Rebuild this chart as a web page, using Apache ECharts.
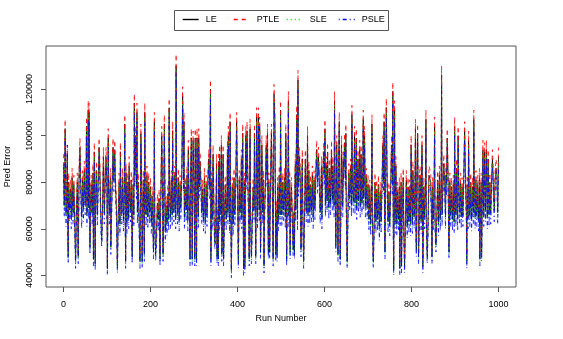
<!DOCTYPE html>
<html>
<head>
<meta charset="utf-8">
<script src="https://cdn.jsdelivr.net/npm/echarts@6/dist/echarts.min.js"></script>
<style>
  html, body { margin: 0; padding: 0; background: #fff; }
  #chart { width: 563px; height: 339px; }
</style>
</head>
<body>
<div id="chart"></div>
<script>
// all values, in thousands
// band: the dense core, one value every 2 runs (run 0..1000)
var RUN_STEP = 2;

var leBand = [
  88,70,81,66,78,64,80,68,77,65,82,67,79,63,84,69,80,66,83,70,78,65,81,68,85,71,80,66,83,69,86,70,79,67,84,68,81,72,85,66,80,69,83,65,78,70,84,67,81,66,
  80,65,78,67,82,63,79,66,81,64,77,68,83,65,80,62,78,67,82,64,79,66,84,63,80,65,77,68,81,62,79,66,83,64,78,67,80,63,82,65,79,68,81,64,77,66,83,65,80,67,
  78,63,74,60,72,62,75,59,71,64,73,61,76,60,72,63,74,59,70,62,75,64,79,65,81,66,78,68,83,65,80,67,82,64,79,69,84,66,81,65,78,68,83,64,80,67,82,65,79,66,
  82,66,79,63,81,65,78,62,80,67,77,64,82,63,79,66,81,62,78,65,80,64,83,66,79,61,77,65,81,63,78,66,80,62,82,65,79,64,77,67,81,63,80,65,78,62,82,66,79,64,
  79,63,81,67,78,65,83,64,80,68,82,66,79,65,84,67,81,64,78,69,83,66,80,65,82,68,79,64,84,67,81,66,78,65,83,68,80,64,82,67,79,66,85,65,81,68,78,64,83,66,
  83,66,80,68,82,65,79,67,84,66,81,69,78,65,83,67,80,68,82,64,79,67,84,66,81,69,83,65,80,68,82,66,85,67,79,68,83,65,81,69,84,66,80,68,82,67,79,65,83,68,
  84,70,87,72,83,69,86,71,85,73,82,70,88,72,84,69,86,71,83,73,87,70,85,72,82,71,88,69,84,73,86,70,83,72,87,71,85,69,84,72,88,70,83,71,86,73,85,70,82,69,
  79,64,77,62,78,65,76,61,80,63,77,64,79,60,76,63,78,62,80,64,77,61,79,63,76,62,78,65,80,61,77,63,79,62,76,64,78,60,80,63,77,62,79,64,76,61,78,63,77,62,
  80,63,78,65,81,62,79,64,77,66,82,63,80,62,78,65,81,64,79,63,83,62,80,66,78,64,82,63,79,65,81,62,84,64,80,66,78,63,82,65,79,64,81,62,80,66,78,64,79,63,
  81,66,79,64,82,67,80,65,78,66,83,64,81,67,79,65,82,66,80,64,78,67,83,65,81,66,79,64,82,67,80,65,84,66,79,68,81,65,83,66,80,67,82,65,79,68,81,66,83,67,
  91
];
var ptleBand = [
  92,74,85,70,82,68,84,72,81,69,86,71,83,67,88,73,84,70,87,74,82,69,85,72,89,75,84,70,87,73,90,74,83,71,88,72,85,76,89,70,84,73,87,69,82,74,88,71,85,70,
  84,69,82,71,86,67,83,70,85,68,81,72,87,69,84,66,82,71,86,68,83,70,88,67,84,69,81,72,85,66,83,70,87,68,82,71,84,67,86,69,83,72,85,68,81,70,87,69,84,71,
  82,67,78,64,76,66,79,63,75,68,77,65,80,64,76,67,78,63,74,66,79,68,83,69,85,70,82,72,87,69,84,71,86,68,83,73,88,70,85,69,82,72,87,68,84,71,86,69,83,70,
  86,70,83,67,85,69,82,66,84,71,81,68,86,67,83,70,85,66,82,69,84,68,87,70,83,65,81,69,85,67,82,70,84,66,86,69,83,68,81,71,85,67,84,69,82,66,86,70,83,68,
  83,67,85,71,82,69,87,68,84,72,86,70,83,69,88,71,85,68,82,73,87,70,84,69,86,72,83,68,88,71,85,70,82,69,87,72,84,68,86,71,83,70,89,69,85,72,82,68,87,70,
  87,70,84,72,86,69,83,71,88,70,85,73,82,69,87,71,84,72,86,68,83,71,88,70,85,73,87,69,84,72,86,70,89,71,83,72,87,69,85,73,88,70,84,72,86,71,83,69,87,72,
  88,74,91,76,87,73,90,75,89,77,86,74,92,76,88,73,90,75,87,77,91,74,89,76,86,75,92,73,88,77,90,74,87,76,91,75,89,73,88,76,92,74,87,75,90,77,89,74,86,73,
  83,68,81,66,82,69,80,65,84,67,81,68,83,64,80,67,82,66,84,68,81,65,83,67,80,66,82,69,84,65,81,67,83,66,80,68,82,64,84,67,81,66,83,68,80,65,82,67,81,66,
  84,67,82,69,85,66,83,68,81,70,86,67,84,66,82,69,85,68,83,67,87,66,84,70,82,68,86,67,83,69,85,66,88,68,84,70,82,67,86,69,83,68,85,66,84,70,82,68,83,67,
  85,70,83,68,86,71,84,69,82,70,87,68,85,71,83,69,86,70,84,68,82,71,87,69,85,70,83,68,86,71,84,69,88,70,83,72,85,69,87,70,84,71,86,69,83,72,85,70,87,71,
  95
];
var sleBand = [
  87,69,80,65,77,63,79,67,76,64,81,66,78,62,83,68,79,65,82,69,77,64,80,67,84,70,79,65,82,68,85,69,78,66,83,67,80,71,84,65,79,68,82,64,77,69,83,66,80,65,
  79,64,77,66,81,62,78,65,80,63,76,67,82,64,79,61,77,66,81,63,78,65,83,62,79,64,76,67,80,61,78,65,82,63,77,66,79,62,81,64,78,67,80,63,76,65,82,64,79,66,
  77,62,73,59,71,61,74,58,70,63,72,60,75,59,71,62,73,58,69,61,74,63,78,64,80,65,77,67,82,64,79,66,81,63,78,68,83,65,80,64,77,67,82,63,79,66,81,64,78,65,
  81,65,78,62,80,64,77,61,79,66,76,63,81,62,78,65,80,61,77,64,79,63,82,65,78,60,76,64,80,62,77,65,79,61,81,64,78,63,76,66,80,62,79,64,77,61,81,65,78,63,
  78,62,80,66,77,64,82,63,79,67,81,65,78,64,83,66,80,63,77,68,82,65,79,64,81,67,78,63,83,66,80,65,77,64,82,67,79,63,81,66,78,65,84,64,80,67,77,63,82,65,
  82,65,79,67,81,64,78,66,83,65,80,68,77,64,82,66,79,67,81,63,78,66,83,65,80,68,82,64,79,67,81,65,84,66,78,67,82,64,80,68,83,65,79,67,81,66,78,64,82,67,
  83,69,86,71,82,68,85,70,84,72,81,69,87,71,83,68,85,70,82,72,86,69,84,71,81,70,87,68,83,72,85,69,82,71,86,70,84,68,83,71,87,69,82,70,85,72,84,69,81,68,
  78,63,76,61,77,64,75,60,79,62,76,63,78,59,75,62,77,61,79,63,76,60,78,62,75,61,77,64,79,60,76,62,78,61,75,63,77,59,79,62,76,61,78,63,75,60,77,62,76,61,
  79,62,77,64,80,61,78,63,76,65,81,62,79,61,77,64,80,63,78,62,82,61,79,65,77,63,81,62,78,64,80,61,83,63,79,65,77,62,81,64,78,63,80,61,79,65,77,63,78,62,
  80,65,78,63,81,66,79,64,77,65,82,63,80,66,78,64,81,65,79,63,77,66,82,64,80,65,78,63,81,66,79,64,83,65,78,67,80,64,82,65,79,66,81,64,78,67,80,65,82,66,
  90
];
var psleBand = [
  83,65,76,61,73,59,75,63,72,60,77,62,74,58,79,64,75,61,78,65,73,60,76,63,80,66,75,61,78,64,81,65,74,62,79,63,76,67,80,61,75,64,78,60,73,65,79,62,76,61,
  75,60,73,62,77,58,74,61,76,59,72,63,78,60,75,57,73,62,77,59,74,61,79,58,75,60,72,63,76,57,74,61,78,59,73,62,75,58,77,60,74,63,76,59,72,61,78,60,75,62,
  73,58,69,55,67,57,70,54,66,59,68,56,71,55,67,58,69,54,65,57,70,59,74,60,76,61,73,63,78,60,75,62,77,59,74,64,79,61,76,60,73,63,78,59,75,62,77,60,74,61,
  77,61,74,58,76,60,73,57,75,62,72,59,77,58,74,61,76,57,73,60,75,59,78,61,74,56,72,60,76,58,73,61,75,57,77,60,74,59,72,62,76,58,75,60,73,57,77,61,74,59,
  74,58,76,62,73,60,78,59,75,63,77,61,74,60,79,62,76,59,73,64,78,61,75,60,77,63,74,59,79,62,76,61,73,60,78,63,75,59,77,62,74,61,80,60,76,63,73,59,78,61,
  78,61,75,63,77,60,74,62,79,61,76,64,73,60,78,62,75,63,77,59,74,62,79,61,76,64,78,60,75,63,77,61,80,62,74,63,78,60,76,64,79,61,75,63,77,62,74,60,78,63,
  79,65,82,67,78,64,81,66,80,68,77,65,83,67,79,64,81,66,78,68,82,65,80,67,77,66,83,64,79,68,81,65,78,67,82,66,80,64,79,67,83,65,78,66,81,68,80,65,77,64,
  74,59,72,57,73,60,71,56,75,58,72,59,74,55,71,58,73,57,75,59,72,56,74,58,71,57,73,60,75,56,72,58,74,57,71,59,73,55,75,58,72,57,74,59,71,56,73,58,72,57,
  75,58,73,60,76,57,74,59,72,61,77,58,75,57,73,60,76,59,74,58,78,57,75,61,73,59,77,58,74,60,76,57,79,59,75,61,73,58,77,60,74,59,76,57,75,61,73,59,74,58,
  76,61,74,59,77,62,75,60,73,61,78,59,76,62,74,60,77,61,75,59,73,62,78,60,76,61,74,59,77,62,75,60,79,61,74,63,76,60,78,61,75,62,77,60,74,63,76,61,78,62,
  86
];

// single-run spikes (needles) that stick out of the band
var spikeRuns = [
  4,9,11,28,34,38,53,57,59,61, 69,71,73,82,88,92,98,101,103,109,
  114,118,124,131,141,143,151,158,163,166, 169,176,178,181,186,187,207,209,212,222,
  226,229,232,243,251,259,274,277,287,291, 294,296,298,302,303,306,307,311,314,334,
  338,339,344,348,352,353,356,357,359,363, 364,367,368,377,379,383,386,398,402,409,
  412,414,417,419,422,427,429,432,439,442, 444,448,451,453,456,461,466,469,471,474,
  478,482,484,486,488,491,499,511,513,517, 521,528,531,533,536,539,542,546,549,552,
  556,561,582,586,593,598,601,607,616,619, 623,626,628,631,634,636,639,643,646,649,
  652,663,669,673,677,681,684,689,692,709, 712,734,737,739,742,754,757,759,761,764,
  773,777,781,784,788,799,803,809,811,814, 816,819,824,826,833,836,842,847,853,856,
  864,869,874,879,882,886,899,903,907,922, 927,931,943,957,961,964,968,972,976,986,
  994
];
var leSpikes = [
  103,92,48,46,48,95,104,111,110,52, 47,93,45,95,55,91,91,43,99,52,
  95,94,44,93,105,46,87,48,114,100, 110,46,101,46,49,110,50,106,49,47,
  100,49,105,112,102,130,117,106,94,47, 99,47,98,47,99,47,99,99,89,90,
  120,47,92,54,88,48,47,89,92,96, 49,92,47,94,100,106,42,106,46,90,
  101,43,44,100,102,47,103,48,101,48, 108,108,104,50,96,44,96,101,50,50,
  101,47,118,106,49,49,111,101,47,115, 50,51,50,88,109,124,91,51,90,46,
  90,100,94,91,87,93,103,93,94,87, 115,53,96,49,106,47,96,89,97,101,
  46,109,100,99,90,94,92,107,100,105, 46,96,106,50,112,96,119,43,111,87,
  43,44,82,44,81,96,85,103,51,101, 48,83,96,44,107,48,83,48,104,53,
  83,126,88,83,99,50,104,86,100,102, 46,98,107,47,49,94,93,94,90,90,
  86
];
var ptleSpikes = [
  107,96,51,49,51,99,108,115,114,55, 50,97,48,99,58,95,95,46,103,55,
  99,98,47,97,109,49,91,51,118,104, 114,49,105,49,52,114,53,110,52,50,
  104,52,109,116,106,135,121,110,98,50, 103,50,102,50,103,50,103,103,93,94,
  124,50,96,57,92,51,50,93,96,100, 52,96,50,98,104,110,45,110,49,94,
  105,46,47,104,106,50,107,51,105,51, 112,112,108,53,100,47,100,105,53,53,
  105,50,122,110,52,52,115,105,50,119, 53,54,53,92,113,128,95,54,94,49,
  94,104,98,95,91,97,107,97,98,91, 119,56,100,52,110,50,100,93,101,105,
  49,113,104,103,94,98,96,111,104,109, 49,100,110,53,116,100,123,46,115,91,
  46,47,86,47,85,100,89,107,54,105, 51,87,100,47,111,51,87,51,108,56,
  87,130,92,87,103,53,108,90,104,106, 49,102,111,50,52,98,97,98,94,94,
  90
];
var sleSpikes = [
  101,90,47,45,47,93,102,109,108,51, 46,91,44,93,54,89,89,42,97,51,
  93,92,43,91,103,45,85,47,112,98, 108,45,99,45,48,108,49,104,48,46,
  98,48,103,110,100,128,115,104,92,46, 97,46,96,46,97,46,97,97,87,88,
  118,46,90,53,86,47,46,87,90,94, 48,90,46,92,98,104,41,104,45,88,
  99,42,43,98,100,46,101,47,99,47, 106,106,102,49,94,43,94,99,49,49,
  99,46,116,104,48,48,109,99,46,113, 49,50,49,86,107,122,89,50,88,45,
  88,98,92,89,85,91,101,91,92,85, 113,52,94,48,104,46,94,87,95,99,
  45,107,98,97,88,92,90,105,98,103, 45,94,104,49,110,94,117,42,109,85,
  42,43,80,43,79,94,83,101,50,99, 47,81,94,43,105,47,81,47,102,52,
  81,124,86,81,97,49,102,84,98,100, 45,96,105,46,48,92,91,92,88,88,
  84
];
var psleSpikes = [
  99,96,45,43,45,91,100,107,106,49, 44,89,42,91,52,87,87,40,95,49,
  91,90,41,89,101,43,83,45,110,96, 106,43,97,43,46,106,47,102,46,44,
  96,46,101,108,98,127,113,102,90,44, 95,44,94,44,95,44,95,95,85,86,
  116,44,88,51,84,45,44,85,88,92, 46,88,44,90,96,102,39,102,43,86,
  97,40,41,96,98,44,99,45,97,45, 104,104,100,47,92,41,92,97,47,47,
  97,44,114,102,46,46,107,97,44,111, 47,48,47,84,105,120,87,48,86,43,
  86,96,90,87,83,89,99,89,90,83, 111,50,92,46,102,44,92,85,93,97,
  43,105,96,95,86,90,88,103,96,101, 43,92,102,47,108,92,115,40,107,83,
  40,41,78,41,77,92,81,99,48,97, 45,79,92,41,103,45,79,45,100,50,
  79,122,84,79,95,47,100,82,96,98, 43,94,103,44,46,90,89,90,86,86,
  82
];

var xTicks = [0, 200, 400, 600, 800, 1000];
var yTicks = [40000, 60000, 80000, 100000, 120000];
var legendNames = ['LE', 'PTLE', 'SLE', 'PSLE'];
var legendLeft = [182, 233, 286, 338];

var FONT = '"Liberation Sans", Arial, sans-serif';

// band + spikes -> [run, value] points sorted by run; a spike replaces a band point on the same run
function buildPoints(band, spikes) {
  var byRun = {};
  band.forEach(function (v, i) { byRun[i * RUN_STEP] = v; });
  spikeRuns.forEach(function (r, j) { byRun[r] = spikes[j]; });
  return Object.keys(byRun).map(Number).sort(function (a, b) { return a - b; })
    .map(function (r) { return [r, byRun[r] * 1000]; });
}

function lineSeries(name, pts, color, dash) {
  return {
    name: name,
    type: 'line',
    data: pts,
    symbol: 'none',
    sampling: null,
    lineStyle: { color: color, width: 0.8, type: dash },
    itemStyle: { color: color }
  };
}

var myChart = echarts.init(document.getElementById('chart'));

myChart.setOption({
  animation: false,
  textStyle: { fontFamily: FONT },
  grid: {
    left: 46, right: 47, top: 46, bottom: 52,
    outerBoundsMode: 'none',
    show: true, borderColor: '#555', borderWidth: 1
  },
  // one legend per entry so the spacing matches, box drawn separately
  legend: legendNames.map(function (n, i) {
    return {
      data: [n],
      left: legendLeft[i], top: 15,
      padding: 0,
      itemWidth: 16, itemHeight: 10,
      itemStyle: { opacity: 0 },
      lineStyle: { color: 'inherit', type: 'inherit', width: 1.4 },
      textStyle: { fontSize: 9, color: '#000', padding: [0, 0, 0, 2], fontFamily: FONT }
    };
  }),
  graphic: [{
    type: 'rect',
    shape: { x: 174.5, y: 10.5, width: 214, height: 20 },
    style: { fill: null, stroke: '#555', lineWidth: 1 },
    silent: true
  }],
  xAxis: {
    type: 'value',
    min: -40, max: 1040,
    name: 'Run Number',
    nameLocation: 'middle',
    nameGap: 26,
    nameTextStyle: { fontSize: 9, color: '#000' },
    axisLine: { show: false, onZero: false },
    axisTick: { show: true, inside: false, length: 5, customValues: xTicks, lineStyle: { color: '#555' } },
    axisLabel: {
      customValues: xTicks, fontSize: 9, color: '#000', margin: 13,
      formatter: function (v) { return String(v); }
    },
    splitLine: { show: false }
  },
  yAxis: {
    type: 'value',
    min: 35000, max: 138500,
    name: 'Pred Error',
    nameLocation: 'middle',
    nameGap: 34,
    nameTextStyle: { fontSize: 9, color: '#000' },
    axisLine: { show: false, onZero: false },
    axisTick: { show: true, inside: false, length: 5, customValues: yTicks, lineStyle: { color: '#555' } },
    axisLabel: {
      customValues: yTicks, rotate: 90, fontSize: 9, color: '#000', margin: 12,
      formatter: function (v) { return String(v); }
    },
    splitLine: { show: false }
  },
  series: [
    lineSeries('LE', buildPoints(leBand, leSpikes), '#000000', 'solid'),
    lineSeries('PTLE', buildPoints(ptleBand, ptleSpikes), '#ff0000', [4, 4]),
    lineSeries('SLE', buildPoints(sleBand, sleSpikes), '#00dd00', [1, 3]),
    lineSeries('PSLE', buildPoints(psleBand, psleSpikes), '#0000ff', [1, 3, 4, 3])
  ]
});
</script>
</body>
</html>
